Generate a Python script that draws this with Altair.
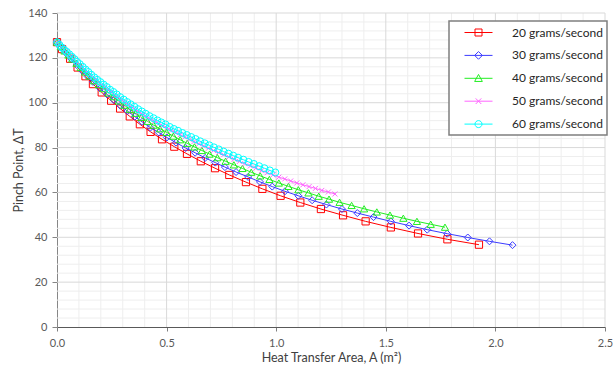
import altair as alt
import pandas as pd

FONT = "Lato"

series_names = ["20 grams/second", "30 grams/second", "40 grams/second",
                "50 grams/second", "60 grams/second"]
colors = ["#FF0000", "#3B3BFF", "#22EE22", "#FF66FF", "#00FFFF"]

x20 = [0.0, 0.023, 0.06, 0.094, 0.13, 0.164, 0.204, 0.247, 0.288, 0.332, 0.378, 0.427, 0.479, 0.535,
       0.593, 0.656, 0.721, 0.786, 0.862, 0.937, 1.02, 1.11, 1.204, 1.305, 1.408, 1.523, 1.647, 1.781, 1.925]
y20 = [127.0, 123.9, 119.6, 115.7, 111.8, 108.3, 104.6, 100.9, 97.4, 93.9, 90.4, 87.0, 83.7, 80.4,
       77.2, 73.9, 70.8, 67.8, 64.6, 61.6, 58.5, 55.5, 52.6, 49.8, 47.1, 44.4, 41.7, 39.1, 36.7]

x30 = [0.0, 0.019, 0.042, 0.065, 0.090, 0.115, 0.140, 0.164, 0.196, 0.228, 0.259, 0.289, 0.321, 0.355,
       0.388, 0.426, 0.464, 0.501, 0.543, 0.587, 0.630, 0.676, 0.722, 0.766, 0.817, 0.872, 0.926, 0.982,
       1.040, 1.101, 1.164, 1.229, 1.300, 1.370, 1.444, 1.523, 1.606, 1.689, 1.780, 1.874, 1.973, 2.078]
y30 = [127.0, 124.6, 122.0, 119.5, 116.8, 114.2, 111.7, 109.3, 106.4, 103.7, 101.2, 98.7, 96.3, 93.8,
       91.5, 88.9, 86.7, 84.5, 82.2, 79.8, 77.7, 75.4, 73.3, 71.3, 69.1, 66.9, 64.7, 62.6,
       60.5, 58.5, 56.5, 54.6, 52.6, 50.8, 49.0, 47.1, 45.2, 43.4, 41.6, 39.9, 38.2, 36.5]

x40 = [0.0, 0.017, 0.034, 0.052, 0.070, 0.089, 0.108, 0.128, 0.148, 0.169, 0.190, 0.212, 0.235, 0.258,
       0.282, 0.307, 0.332, 0.358, 0.385, 0.413, 0.441, 0.470, 0.500, 0.531, 0.562, 0.594, 0.627, 0.661,
       0.696, 0.732, 0.769, 0.807, 0.846, 0.886, 0.927, 0.969, 1.012, 1.056, 1.101, 1.147, 1.194, 1.241,
       1.289, 1.344, 1.401, 1.459, 1.519, 1.580, 1.642, 1.705, 1.770]
y40 = [127.0, 125.0, 123.1, 121.3, 119.5, 117.6, 115.7, 113.7, 111.9, 109.8, 108.1, 106.3, 104.4, 102.7,
       100.8, 98.9, 97.1, 95.3, 93.5, 91.7, 90.0, 88.4, 86.8, 85.1, 83.5, 81.9, 80.3, 78.7,
       77.1, 75.5, 73.9, 72.3, 70.7, 69.0, 67.4, 65.8, 64.2, 62.7, 61.2, 59.8, 58.3, 57.0,
       55.6, 54.2, 52.7, 51.3, 49.9, 48.5, 47.1, 45.8, 44.5]

x50 = [0.0, 0.010, 0.020, 0.031, 0.042, 0.053, 0.064, 0.076, 0.088, 0.100, 0.112, 0.124, 0.137, 0.150,
       0.163, 0.176, 0.190, 0.204, 0.218, 0.232, 0.247, 0.262, 0.277, 0.292, 0.308, 0.324, 0.340, 0.357,
       0.374, 0.391, 0.409, 0.427, 0.445, 0.464, 0.483, 0.502, 0.522, 0.542, 0.562, 0.583, 0.604, 0.625,
       0.647, 0.669, 0.691, 0.714, 0.737, 0.760, 0.784, 0.808, 0.832, 0.857, 0.882, 0.907, 0.933, 0.959,
       0.985, 1.012, 1.039, 1.066, 1.094, 1.122, 1.150, 1.179, 1.208, 1.238, 1.268]
y50 = [127.0, 125.9, 124.8, 123.7, 122.7, 121.6, 120.6, 119.5, 118.3, 117.2, 116.0, 114.9, 113.7, 112.5,
       111.3, 110.3, 109.1, 108.0, 107.0, 105.9, 104.8, 103.6, 102.5, 101.4, 100.3, 99.2, 98.1, 97.0,
       95.8, 94.8, 93.7, 92.6, 91.7, 90.7, 89.6, 88.7, 87.7, 86.6, 85.7, 84.7, 83.7, 82.7,
       81.7, 80.7, 79.7, 78.7, 77.8, 76.8, 75.8, 74.8, 73.8, 72.8, 71.8, 70.8, 69.7, 68.8,
       67.8, 66.8, 66.0, 65.1, 64.2, 63.4, 62.6, 61.8, 60.9, 60.2, 59.3]

x60 = [0.0, 0.011, 0.022, 0.033, 0.044, 0.056, 0.068, 0.080, 0.092, 0.104, 0.117, 0.130, 0.143, 0.156,
       0.170, 0.184, 0.198, 0.212, 0.227, 0.242, 0.257, 0.272, 0.288, 0.304, 0.320, 0.336, 0.353, 0.370,
       0.387, 0.404, 0.422, 0.440, 0.458, 0.476, 0.495, 0.514, 0.533, 0.552, 0.572, 0.592, 0.612, 0.632,
       0.653, 0.674, 0.695, 0.716, 0.738, 0.760, 0.782, 0.804, 0.826, 0.850, 0.874, 0.898, 0.922, 0.946,
       0.971, 0.996]
y60 = [127.0, 125.8, 124.6, 123.6, 122.7, 121.6, 120.5, 119.4, 118.2, 117.2, 116.0, 114.8, 113.7, 112.5,
       111.3, 110.2, 109.2, 108.1, 107.0, 105.8, 104.8, 103.7, 102.5, 101.4, 100.3, 99.3, 98.2, 97.1,
       96.1, 95.1, 94.0, 93.1, 92.1, 91.2, 90.3, 89.2, 88.3, 87.5, 86.5, 85.6, 84.7, 83.8,
       82.8, 81.9, 81.0, 80.1, 79.2, 78.2, 77.3, 76.4, 75.5, 74.6, 73.6, 72.7, 71.7, 70.8,
       69.8, 68.9]

x_ticks = [0.0, 0.5, 1.0, 1.5, 2.0, 2.5]
y_ticks = [0, 20, 40, 60, 80, 100, 120, 140]
x_major_grid = [0.5, 1.0, 1.5, 2.0, 2.5]
y_major_grid = [20, 40, 60, 80, 100, 120, 140]
x_minor_grid = [0.1, 0.2, 0.3, 0.4, 0.6, 0.7, 0.8, 0.9, 1.1, 1.2, 1.3, 1.4, 1.6, 1.7, 1.8, 1.9,
                2.1, 2.2, 2.3, 2.4]
y_minor_grid = [4, 8, 12, 16, 24, 28, 32, 36, 44, 48, 52, 56, 64, 68, 72, 76, 84, 88, 92, 96,
                104, 108, 112, 116, 124, 128, 132, 136]

point_shapes = ["square", "diamond", "triangle-up", "M-1,-1L1,1M-1,1L1,-1", "circle"]
point_sizes = [52, 49, 52, 25, 49]
legend_paths = [
    "M-2,0H2M-0.5,-0.5H0.5V0.5H-0.5Z",
    "M-2,0H2M0,-0.55L0.55,0L0,0.55L-0.55,0Z",
    "M-2,0H2M0,-0.55L0.55,0.45L-0.55,0.45Z",
    "M-2,0H2M-0.4,-0.4L0.4,0.4M-0.4,0.4L0.4,-0.4",
    "M-2,0H2M0.5,0A0.5,0.5,0,1,1,-0.5,0A0.5,0.5,0,1,1,0.5,0Z",
]

frames = []
for name, xs_, ys_ in zip(series_names, [x20, x30, x40, x50, x60], [y20, y30, y40, y50, y60]):
    frames.append(pd.DataFrame({"series": name, "x": xs_, "y": ys_, "i": list(range(len(xs_)))}))
df = pd.concat(frames, ignore_index=True)

x_scale = alt.Scale(domain=[0, 2.5], nice=False, zero=False)
y_scale = alt.Scale(domain=[0, 140], nice=False, zero=False)

x_axis = alt.Axis(values=x_ticks, format=".1f", grid=False, labelFlush=False,
                  title="Heat Transfer Area, A (m²)", labelFont=FONT, labelFontSize=11,
                  labelColor="#595959", titleFont=FONT, titleFontSize=12.5,
                  titleFontWeight="normal", titleColor="#404040", domainColor="#595959",
                  tickColor="#7F7F7F", tickSize=4, labelPadding=6, titlePadding=3)
y_axis = alt.Axis(values=y_ticks, format="d", grid=False, labelFlush=False,
                  title="Pinch Point, ΔT", labelFont=FONT, labelFontSize=11,
                  labelColor="#595959", titleFont=FONT, titleFontSize=12.5,
                  titleFontWeight="normal", titleColor="#404040", domainColor="#868686",
                  tickColor="#868686", tickSize=5, labelPadding=5, titlePadding=2)

MINOR = "#EEEEEE"
MAJOR = "#D9D9D9"


def vrule(vals, color):
    return alt.Chart(pd.DataFrame({"v": vals})).mark_rule(color=color, strokeWidth=1).encode(
        x=alt.X("v:Q", scale=x_scale, axis=x_axis))


def hrule(vals, color):
    return alt.Chart(pd.DataFrame({"v": vals})).mark_rule(color=color, strokeWidth=1).encode(
        y=alt.Y("v:Q", scale=y_scale, axis=y_axis))


layers = [vrule(x_minor_grid, MINOR), hrule(y_minor_grid, MINOR),
          vrule(x_major_grid, MAJOR), hrule(y_major_grid, MAJOR)]

for name, color, shape, size in zip(series_names, colors, point_shapes, point_sizes):
    sub = alt.Chart(df).transform_filter(alt.datum.series == name)
    enc = dict(x=alt.X("x:Q", scale=x_scale, axis=x_axis),
               y=alt.Y("y:Q", scale=y_scale, axis=y_axis))
    layers.append(sub.mark_line(color=color, strokeWidth=1).encode(order="i:Q", **enc))
    layers.append(sub.mark_point(shape=shape, size=size, color=color, filled=False,
                                 strokeWidth=1, opacity=1).encode(**enc))

leg = alt.Legend(orient="none", legendX=392, legendY=8, title=None, padding=4,
                 symbolSize=196, symbolStrokeWidth=1, labelFont=FONT, labelFontSize=12,
                 labelColor="#262626", strokeColor="#7F7F7F", fillColor="white",
                 rowPadding=8.9, symbolOffset=18, labelOffset=26,
                 labelExpr="datum.label + '   '")

legend_layer = alt.Chart(df).transform_filter("false").mark_point(
    filled=False, strokeWidth=1, opacity=1, size=196).encode(
    color=alt.Color("series:N", scale=alt.Scale(domain=series_names, range=colors), legend=leg),
    shape=alt.Shape("series:N", scale=alt.Scale(domain=series_names, range=legend_paths), legend=leg),
)
layers.append(legend_layer)

chart = alt.layer(*layers).properties(
    width=548, height=314,
    padding={"left": 57, "top": 13, "right": 11, "bottom": 40},
    autosize=alt.AutoSizeParams(type="none"),
    background="white",
).configure_view(strokeWidth=0).configure_legend(strokeWidth=1.5)

chart.save("out.html", embed_options={"renderer": "svg", "actions": False})
